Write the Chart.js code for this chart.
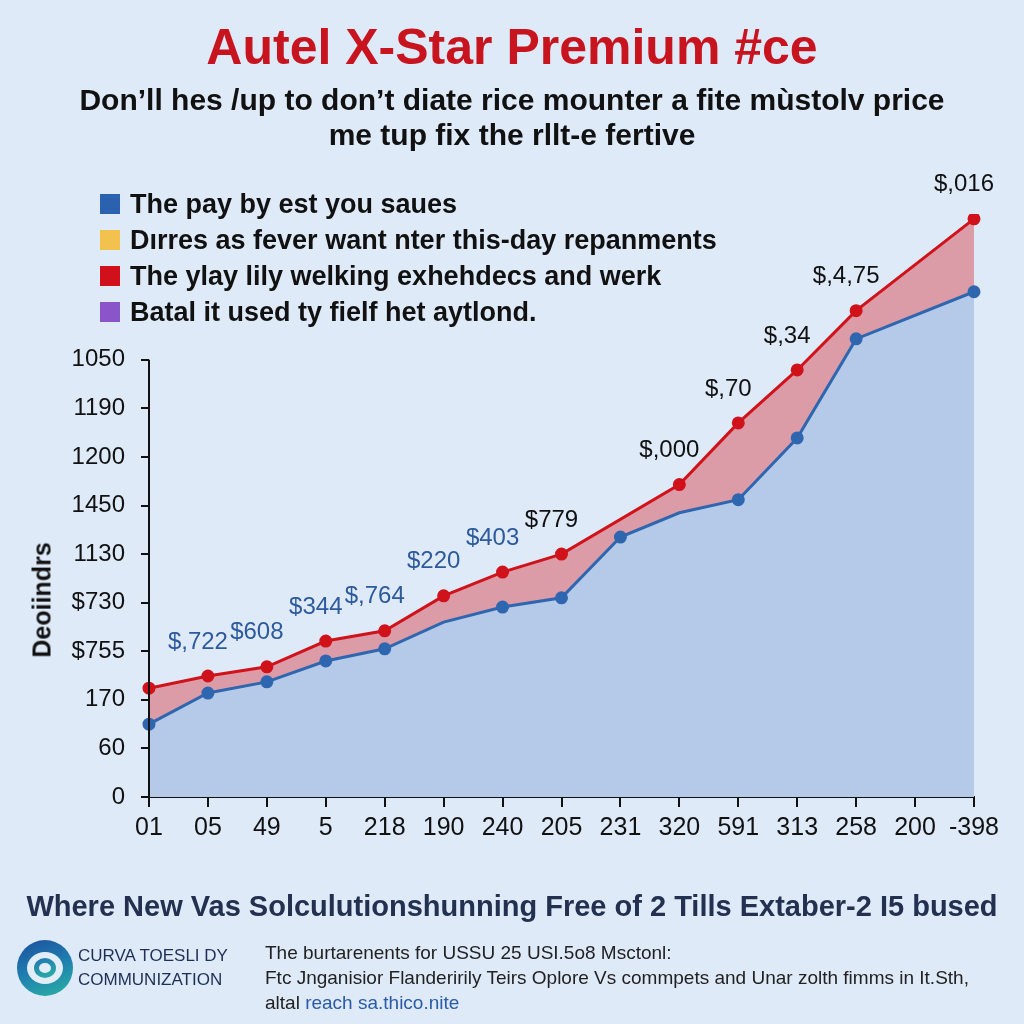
<!DOCTYPE html>
<html>
<head>
<meta charset="utf-8">
<title>Autel X-Star Premium</title>
<script src="https://cdn.jsdelivr.net/npm/chart.js@4.4.1/dist/chart.umd.min.js"></script>
<style>
  html { background: #dfeaf8; }
  html, body { margin: 0; padding: 0; }
  body {
    width: 1024px; height: 1024px; position: relative; overflow: hidden;
    background: #dfeaf8;
    font-family: "Liberation Sans", Arial, sans-serif;
  }
  #wrap { position: absolute; left: 0; top: 0; width: 1024px; height: 1024px; }
  .abs { position: absolute; white-space: nowrap; }
  #title { left: 0; width: 1024px; top: 18px; text-align: center; color: #c8141e; font-weight: bold; font-size: 50px; line-height: 58px; }
  #subtitle { left: 0; width: 1024px; top: 82px; text-align: center; color: #111; font-weight: bold; font-size: 30px; line-height: 35px; }
  #legend { left: 100px; top: 186px; }
  .item { height: 36px; display: flex; align-items: center; font-weight: bold; font-size: 27px; color: #111; }
  .sw { width: 20px; height: 20px; margin-right: 10px; }
  #ytitle { left: 42px; top: 600px; transform: translate(-50%, -50%) rotate(-90deg); font-weight: bold; font-size: 25px; color: #111; }
  #headline { left: 0; width: 1024px; top: 890px; text-align: center; color: #233050; font-weight: bold; font-size: 29px; }
  #logo { left: 17px; top: 940px; width: 56px; height: 56px; border-radius: 50%;
    background: linear-gradient(160deg, #1c4f9e 0%, #1f7fb0 50%, #2bb3a3 100%); }
  #logo .in1 { position: absolute; left: 10px; top: 12px; width: 36px; height: 32px; border-radius: 50%; background: #e3edf8; }
  #logo .in2 { position: absolute; left: 17px; top: 18px; width: 22px; height: 20px; border-radius: 50%; background: linear-gradient(160deg, #2274b4, #2bb3a3); }
  #logo .in3 { position: absolute; left: 22px; top: 23px; width: 12px; height: 10px; border-radius: 50%; background: #e3edf8; }
  #brand { left: 78px; top: 944px; color: #1e2f55; font-size: 17px; line-height: 24px; font-family: "Liberation Sans Narrow", "Liberation Sans", Arial, sans-serif; }
  #notes { left: 265px; top: 940px; color: #222; font-size: 19px; line-height: 25px; font-family: "Liberation Sans Narrow", "Liberation Sans", Arial, sans-serif; }
  #notes .lnk { color: #2a5aa8; }
</style>
</head>
<body>
<div id="wrap"><canvas id="priceChart"></canvas></div>

<div id="title" class="abs">Autel X-Star Premium #ce</div>
<div id="subtitle" class="abs">Don’ll hes /up to don’t diate rice mounter a fite mùstolv price<br>me tup fix the rllt-e fertive</div>
<div id="legend" class="abs"></div>
<div id="ytitle" class="abs">Deoiindrs</div>
<div id="headline" class="abs">Where New Vas Solculutionshunning Free of 2 Tills Extaber-2 I5 bused</div>
<div id="logo" class="abs"><div class="in1"></div><div class="in2"></div><div class="in3"></div></div>
<div id="brand" class="abs">CURVA TOESLI DY<br>COMMUNIZATION</div>
<div id="notes" class="abs">The burtarenents for USSU 25 USI.5o8 Msctonl:<br>Ftc Jnganisior Flanderirily Teirs Oplore Vs commpets and Unar zolth fimms in It.Sth,<br>altal <span class="lnk">reach sa.thico.nite</span></div>

<script>
// ===== Data =====
const categories = ['01', '05', '49', '5', '218', '190', '240', '205', '231', '320', '591', '313', '258', '200', '-398'];
const baseSeries = [150, 214, 237, 280, 305, 360, 391, 410, 535, 585, 612, 739, 943, null, 1040];
const topSeries = [224, 249, 268, 321, 342, 414, 463, 500, null, 643, 770, 879, 1001, null, 1190];
const valueLabels = ['', '$,722', '$608', '$344', '$,764', '$220', '$403', '$779', '', '$,000', '$,70', '$,34', '$,4,75', '', '$,016'];
const yTickValues = [0, 100, 200, 300, 400, 500, 600, 700, 800, 900];
const yTickLabels = ['0', '60', '170', '$755', '$730', '1130', '1450', '1200', '1190', '1050'];
const legendNames = ['The pay by est you saues', 'Dırres as fever want nter this-day repanments', 'The ylay lily welking exhehdecs and werk', 'Batal it used ty fielf het aytlond.'];
const legendColors = ['#2a62b0', '#f2c14e', '#d0101a', '#8a55c8'];

// ===== Legend (drawn over the plot, as in the original) =====
const legendBox = document.getElementById('legend');
legendNames.forEach((name, i) => {
    legendBox.innerHTML += `<div class="item"><span class="sw" style="background:${legendColors[i]}"></span>${name}</div>`;
});

// Y axis line only runs up to the last tick
const axisLine = {
    id: 'axisLine',
    afterDraw(chart) {
        const { ctx, scales: { x, y } } = chart;
        ctx.save();
        ctx.strokeStyle = '#111';
        ctx.lineWidth = 2;
        ctx.beginPath();
        ctx.moveTo(x.left, y.getPixelForValue(0) + 1);
        ctx.lineTo(x.left, y.getPixelForValue(yTickValues[yTickValues.length - 1]));
        ctx.stroke();
        ctx.restore();
    }
};

// Price labels above the red line
const priceLabels = {
    id: 'priceLabels',
    afterDatasetsDraw(chart) {
        const { ctx } = chart;
        const meta = chart.getDatasetMeta(1);
        ctx.save();
        ctx.textAlign = 'center';
        ctx.textBaseline = 'middle';
        meta.data.forEach((pt, i) => {
            if (!valueLabels[i] || topSeries[i] === null) return;
            const blue = i < 7;
            ctx.fillStyle = blue ? '#2c5a9c' : '#111';
            ctx.font = '24px "Liberation Sans", Arial';
            ctx.fillText(valueLabels[i], pt.x - 10, pt.y - 34);
        });
        ctx.restore();
    }
};

new Chart(document.getElementById('priceChart'), {
    type: 'line',
    data: {
        labels: categories,
        datasets: [{
            label: 'base',
            data: baseSeries,
            borderColor: '#2f66b0',
            backgroundColor: '#b5cae8',
            pointBackgroundColor: '#2f66b0',
            pointBorderColor: '#2f66b0',
            borderWidth: 3,
            pointRadius: [5, 5, 5, 5, 5, 0, 5, 5, 5, 0, 5, 5, 5, 0, 5],
            fill: 'origin',
            spanGaps: true,
            tension: 0
        }, {
            label: 'top',
            data: topSeries,
            borderColor: '#d0121b',
            backgroundColor: '#dc9ca7',
            pointBackgroundColor: '#d0121b',
            pointBorderColor: '#d0121b',
            borderWidth: 3,
            pointRadius: 5,
            fill: '-1',
            spanGaps: true,
            tension: 0
        }]
    },
    options: {
        responsive: true,
        maintainAspectRatio: false,
        animation: false,
        layout: { padding: { left: 0, right: 50, top: 214, bottom: 167 } },
        plugins: {
            legend: { display: false },
            tooltip: { enabled: false }
        },
        scales: {
            x: {
                offset: false,
                afterFit: (s) => { s.height = 60; },
                border: { display: true, color: '#111', width: 2 },
                grid: { drawOnChartArea: false, drawTicks: true, tickLength: 10, color: '#111', lineWidth: 2 },
                ticks: { color: '#111', font: { size: 25, family: '"Liberation Sans", Arial' }, padding: 6, autoSkip: false, maxRotation: 0 }
            },
            y: {
                min: 0,
                max: 1200,
                afterFit: (s) => { s.width = 149; },
                afterBuildTicks: (s) => { s.ticks = yTickValues.map(v => ({ value: v })); },
                border: { display: false },
                grid: { drawOnChartArea: false, drawTicks: true, tickLength: 8, color: '#111', lineWidth: 2 },
                ticks: {
                    color: '#111',
                    font: { size: 24, family: '"Liberation Sans", Arial' },
                    padding: 16,
                    callback: (v, i) => yTickLabels[i]
                }
            }
        }
    },
    plugins: [axisLine, priceLabels]
});
</script>
</body>
</html>
